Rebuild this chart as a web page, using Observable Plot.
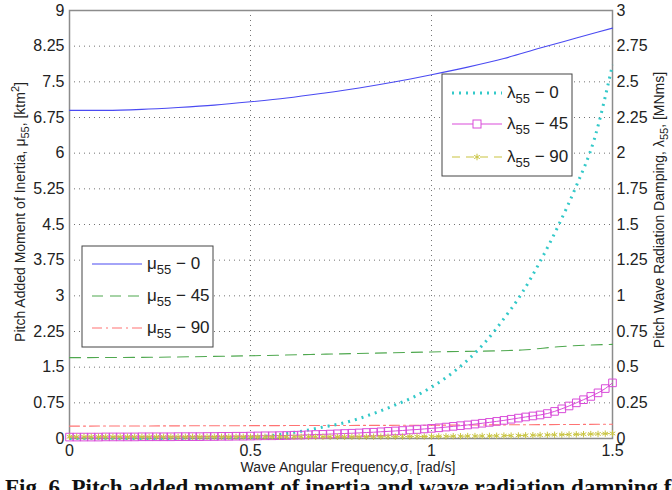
<!DOCTYPE html>
<html>
<head>
<meta charset="utf-8">
<script src="https://cdn.jsdelivr.net/npm/d3@7"></script>
<script src="https://cdn.jsdelivr.net/npm/@observablehq/plot@0.6"></script>
<style>
  html, body { margin: 0; padding: 0; background: #fff; }
  body { width: 672px; height: 490px; overflow: hidden; }
  #chart svg { display: block; }
  #caption {
    font: bold 23px "Liberation Serif", "Times New Roman", serif;
    line-height: 23px;
    white-space: nowrap;
    padding-left: 5px;
    color: #111;
  }
</style>
</head>
<body>
<div id="chart"></div>
<div id="caption">Fig. 6. Pitch added moment of inertia and wave radiation damping for</div>
<script>
// Frequency axis ticks
const sigmaTicks = [0, 0.5, 1, 1.5];
// Left axis: added moment of inertia mu55 [ktm^2]
const muTicks = [0, 0.75, 1.5, 2.25, 3, 3.75, 4.5, 5.25, 6, 6.75, 7.5, 8.25, 9];
// Right axis: radiation damping lambda55 [MNms]
const lamTicks = [0, 0.25, 0.5, 0.75, 1, 1.25, 1.5, 1.75, 2, 2.25, 2.5, 2.75, 3];
// Right axis spans 0-3 against 0-9 on the left
const lamToMu = 3;

// Added moment of inertia, heading 0 / 45 / 90 deg
const muSigma   = [0, 0.1, 0.2, 0.3, 0.4, 0.5, 0.6, 0.7, 0.8, 0.9, 1.0, 1.1, 1.2, 1.3, 1.4, 1.5];
const mu0       = [6.90, 6.90, 6.92, 6.96, 7.01, 7.08, 7.16, 7.26, 7.37, 7.50, 7.65, 7.81, 7.99, 8.21, 8.42, 8.63];
const mu45Sigma = [0, 0.25, 0.5, 0.75, 1.0, 1.25, 1.35, 1.5];
const mu45      = [1.70, 1.71, 1.74, 1.78, 1.82, 1.86, 1.93, 1.98];
const mu90Sigma = [0, 0.5, 1.0, 1.5];
const mu90      = [0.26, 0.27, 0.28, 0.30];

// Radiation damping, heading 0 deg
const lam0Sigma = [0, 0.1, 0.2, 0.3, 0.4, 0.5, 0.55, 0.6, 0.65, 0.7, 0.75, 0.8, 0.85, 0.9, 0.95, 1.0,
                   1.05, 1.1, 1.15, 1.2, 1.25, 1.3, 1.35, 1.4, 1.45, 1.5];
const lam0      = [0, 0, 0, 0, 0.002, 0.008, 0.018, 0.035, 0.055, 0.08, 0.105, 0.14, 0.185, 0.235, 0.29, 0.36,
                   0.445, 0.55, 0.68, 0.84, 1.02, 1.24, 1.49, 1.77, 2.10, 2.62];

// Radiation damping, heading 45 / 90 deg (sampled every 0.02 rad/s)
const fineSigma = [0, 0.02, 0.04, 0.06, 0.08, 0.1, 0.12, 0.14, 0.16, 0.18, 0.2, 0.22, 0.24, 0.26, 0.28,
                   0.3, 0.32, 0.34, 0.36, 0.38, 0.4, 0.42, 0.44, 0.46, 0.48, 0.5, 0.52, 0.54, 0.56, 0.58,
                   0.6, 0.62, 0.64, 0.66, 0.68, 0.7, 0.72, 0.74, 0.76, 0.78, 0.8, 0.82, 0.84, 0.86, 0.88,
                   0.9, 0.92, 0.94, 0.96, 0.98, 1.0, 1.02, 1.04, 1.06, 1.08, 1.1, 1.12, 1.14, 1.16, 1.18,
                   1.2, 1.22, 1.24, 1.26, 1.28, 1.3, 1.32, 1.34, 1.36, 1.38, 1.4, 1.42, 1.44, 1.46, 1.48, 1.5];
const lam45     = [0.010, 0.010, 0.010, 0.010, 0.010, 0.011, 0.011, 0.011, 0.011, 0.011, 0.012, 0.012, 0.012, 0.012, 0.012,
                   0.013, 0.013, 0.013, 0.013, 0.014, 0.014, 0.015, 0.015, 0.016, 0.016, 0.017, 0.018, 0.019, 0.019, 0.020,
                   0.021, 0.023, 0.024, 0.026, 0.028, 0.029, 0.031, 0.033, 0.035, 0.037, 0.039, 0.042, 0.044, 0.047, 0.050,
                   0.053, 0.056, 0.060, 0.063, 0.067, 0.071, 0.075, 0.080, 0.085, 0.090, 0.095, 0.101, 0.107, 0.113, 0.120,
                   0.127, 0.135, 0.143, 0.151, 0.158, 0.165, 0.175, 0.190, 0.208, 0.228, 0.250, 0.272, 0.295, 0.320, 0.350, 0.390];
const lam90     = [0.012, 0.012, 0.012, 0.012, 0.012, 0.012, 0.012, 0.012, 0.012, 0.012, 0.012, 0.012, 0.012, 0.012, 0.012,
                   0.012, 0.012, 0.012, 0.012, 0.012, 0.012, 0.012, 0.012, 0.012, 0.012, 0.012, 0.012, 0.012, 0.012, 0.012,
                   0.012, 0.012, 0.012, 0.012, 0.012, 0.012, 0.012, 0.012, 0.012, 0.012, 0.012, 0.012, 0.013, 0.013, 0.013,
                   0.013, 0.013, 0.014, 0.014, 0.014, 0.015, 0.015, 0.015, 0.016, 0.016, 0.017, 0.017, 0.018, 0.018, 0.019,
                   0.020, 0.020, 0.021, 0.022, 0.023, 0.024, 0.025, 0.026, 0.027, 0.028, 0.029, 0.030, 0.031, 0.032, 0.034, 0.035];

const colors = {
  mu0: "#4a4af2", mu45: "#4fa84f", mu90: "#ff7373",
  lam0: "#33c9c9", lam45: "#d94cd9", lam90: "#c9c440"
};
const dashes = { mu45: "11,7", mu90: "10,4,2,4", lam0: "2,5", lam90: "8,6" };

const rows = (xs, ys) => xs.map((s, i) => ({ sigma: s, v: ys[i] }));
const muRows0 = rows(muSigma, mu0);
const muRows45 = rows(mu45Sigma, mu45);
const muRows90 = rows(mu90Sigma, mu90);
const lamRows0 = rows(lam0Sigma, lam0);
const lamRows45 = rows(fineSigma, lam45);
const lamRows90 = rows(fineSigma, lam90);
const lamY = d => d.v * lamToMu;

const W = 672, H = 476;
const fmt = d => String(+d.toFixed(2));

const svg = Plot.plot({
  width: W,
  height: H,
  marginLeft: 69,
  marginRight: 60,
  marginTop: 10,
  marginBottom: 38,
  style: { fontFamily: '"Liberation Sans", Arial, sans-serif', fontSize: "16px", color: "#222", background: "#fff" },
  x: { domain: [0, 1.5] },
  y: { domain: [0, 9] },
  marks: [
    Plot.gridY(muTicks, { stroke: "#444", strokeOpacity: 0.75, strokeDasharray: "1,4" }),
    Plot.gridX(sigmaTicks, { stroke: "#444", strokeOpacity: 0.75, strokeDasharray: "1,4" }),
    Plot.axisY(muTicks, { anchor: "left", tickSize: 0, tickPadding: 5, tickFormat: fmt, label: null }),
    Plot.axisY(lamTicks.map(v => v * lamToMu), { anchor: "right", tickSize: 0, tickPadding: 4,
      tickFormat: d => fmt(d / lamToMu), label: null }),
    Plot.axisX(sigmaTicks, { tickSize: 0, tickPadding: 6, tickFormat: fmt, label: null }),
    Plot.frame({ stroke: "#8c8c8c", strokeWidth: 1.5 }),

    Plot.line(muRows0, { x: "sigma", y: "v", stroke: colors.mu0, strokeWidth: 1.1, curve: "monotone-x" }),
    Plot.line(muRows45, { x: "sigma", y: "v", stroke: colors.mu45, strokeWidth: 1.1, strokeDasharray: dashes.mu45, curve: "monotone-x" }),
    Plot.line(muRows90, { x: "sigma", y: "v", stroke: colors.mu90, strokeWidth: 1.1, strokeDasharray: dashes.mu90, curve: "monotone-x" }),

    Plot.line(lamRows0, { x: "sigma", y: lamY, stroke: colors.lam0, strokeWidth: 3, strokeDasharray: dashes.lam0,
      strokeLinecap: "butt", curve: "monotone-x" }),
    Plot.line(lamRows45, { x: "sigma", y: lamY, stroke: colors.lam45, strokeWidth: 1, curve: "monotone-x" }),
    Plot.dot(lamRows45, { x: "sigma", y: lamY, symbol: "square", r: 4.3, stroke: colors.lam45, fill: "none", strokeWidth: 1 }),
    Plot.line(lamRows90, { x: "sigma", y: lamY, stroke: colors.lam90, strokeWidth: 1, strokeDasharray: dashes.lam90, curve: "monotone-x" }),
    Plot.dot(lamRows90, { x: "sigma", y: lamY, symbol: "asterisk", r: 3, stroke: colors.lam90, strokeWidth: 1 })
  ]
});
document.getElementById("chart").appendChild(svg);

// Text with sub/superscripts: parts = [[text, "sub"|"sup"|null], ...]
function richText(sel, parts, size) {
  const small = Math.round(size * 0.75);
  let shift = 0;
  for (const [str, kind] of parts) {
    const target = kind === "sub" ? size * 0.3 : kind === "sup" ? -size * 0.4 : 0;
    sel.append("tspan")
      .attr("dy", target - shift)
      .attr("font-size", kind ? small : size)
      .text(str);
    shift = target;
  }
  return sel;
}

const root = d3.select(svg);
const font = '"Liberation Sans", Arial, sans-serif';

// Axis titles
richText(root.append("text")
  .attr("transform", "translate(25,212) rotate(-90)")
  .attr("text-anchor", "middle").attr("font-family", font).attr("fill", "#222"),
  [["Pitch Added Moment of Inertia, \u03bc", null], ["55", "sub"], [", [ktm", null], ["2", "sup"], ["]", null]], 14);

richText(root.append("text")
  .attr("transform", "translate(664,210) rotate(-90)")
  .attr("text-anchor", "middle").attr("font-family", font).attr("fill", "#222"),
  [["Pitch Wave Radiation Damping, \u03bb", null], ["55", "sub"], [", [MNms]", null]], 14);

root.append("text")
  .attr("x", 348).attr("y", 472)
  .attr("text-anchor", "middle").attr("font-family", font).attr("font-size", 14).attr("fill", "#222")
  .text("Wave Angular Frequency,\u03c3, [rad/s]");

// Legends
function legend(box, entries) {
  const g = root.append("g").attr("text-anchor", "start");
  g.append("rect").attr("x", box.x).attr("y", box.y).attr("width", box.w).attr("height", box.h)
    .attr("fill", "#fff").attr("stroke", "#444").attr("stroke-width", 1);
  entries.forEach((e, i) => {
    const y = box.rows[i];
    g.append("line").attr("x1", box.lx0).attr("x2", box.lx1).attr("y1", y).attr("y2", y)
      .attr("stroke", e.color).attr("stroke-width", e.width || 1.1)
      .attr("stroke-dasharray", e.dash || null);
    const mx = (box.lx0 + box.lx1) / 2;
    if (e.marker === "square") {
      g.append("rect").attr("x", mx - 4).attr("y", y - 4).attr("width", 8).attr("height", 8)
        .attr("fill", "#fff").attr("stroke", e.color);
    } else if (e.marker === "asterisk") {
      g.append("path").attr("transform", `translate(${mx},${y})`)
        .attr("d", d3.symbol(d3.symbolAsterisk, 30)()).attr("fill", "none").attr("stroke", e.color);
    }
    richText(g.append("text").attr("x", box.tx).attr("y", y + 5)
      .attr("text-anchor", "start").attr("font-family", font).attr("fill", "#222"),
      [[e.sym, null], ["55", "sub"], [" \u2212 " + e.deg, null]], 17);
  });
}

legend({ x: 82, y: 246, w: 131, h: 101, rows: [264, 296, 328], lx0: 92, lx1: 142, tx: 147 }, [
  { sym: "\u03bc", deg: "0", color: colors.mu0 },
  { sym: "\u03bc", deg: "45", color: colors.mu45, dash: dashes.mu45 },
  { sym: "\u03bc", deg: "90", color: colors.mu90, dash: dashes.mu90 }
]);

legend({ x: 442, y: 74, w: 130, h: 102, rows: [93, 124, 157], lx0: 452, lx1: 502, tx: 507 }, [
  { sym: "\u03bb", deg: "0", color: colors.lam0, dash: dashes.lam0, width: 3 },
  { sym: "\u03bb", deg: "45", color: colors.lam45, marker: "square" },
  { sym: "\u03bb", deg: "90", color: colors.lam90, dash: dashes.lam90, marker: "asterisk" }
]);
</script>
</body>
</html>
